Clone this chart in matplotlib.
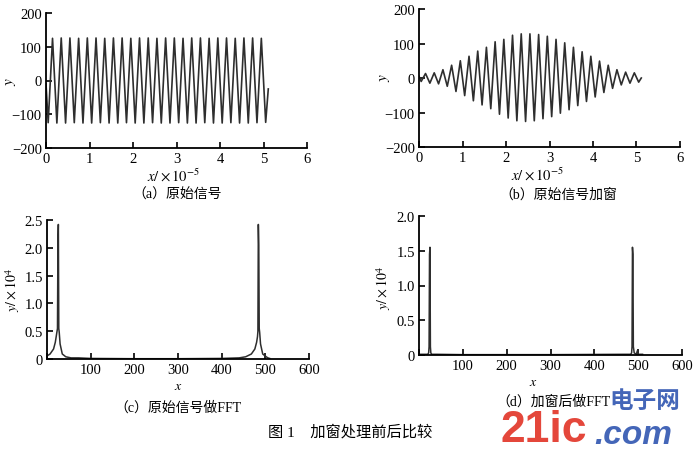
import numpy as np
import matplotlib.pyplot as plt

plt.rcParams['font.family'] = ['Liberation Serif', 'Noto Sans CJK SC', 'DejaVu Sans']
plt.rcParams['mathtext.fontset'] = 'stix'

# ---- (a) original signal: trough / peak values (x in 1e-5) ----
trough_x = [0.05, 0.25, 0.45, 0.65, 0.85, 1.05, 1.25, 1.45, 1.65, 1.85, 2.05, 2.25, 2.45,
            2.65, 2.85, 3.05, 3.25, 3.45, 3.65, 3.85, 4.05, 4.25, 4.45, 4.65, 4.85, 5.05]
peak_x = [0.15, 0.35, 0.55, 0.75, 0.95, 1.15, 1.35, 1.55, 1.75, 1.95, 2.15, 2.35, 2.55,
          2.75, 2.95, 3.15, 3.35, 3.55, 3.75, 3.95, 4.15, 4.35, 4.55, 4.75, 4.95]
ends_x = [0.0, 5.11]

raw_trough = [-125, -126, -126, -125, -126, -126, -125, -126, -126, -125, -126, -126, -125,
              -126, -126, -125, -126, -126, -125, -126, -126, -125, -126, -126, -125, -124]
raw_peak = [125, 126, 126, 125, 126, 126, 125, 126, 126, 125, 126, 126, 125,
            126, 126, 125, 126, 126, 125, 126, 126, 125, 126, 126, 125]
raw_ends = [-10, -25]

# ---- (b) windowed signal ----
win_trough = [-10, -15, -17, -24, -39, -51, -66, -78, -89, -105, -116, -124, -126,
              -124, -118, -112, -102, -92, -80, -68, -55, -42, -30, -20, -15, -12]
win_peak = [13, 15, 24, 37, 50, 63, 78, 89, 105, 112, 124, 128, 128,
            126, 121, 112, 102, 89, 76, 63, 49, 37, 24, 17, 15]
win_ends = [5, 0]

# ---- (c) FFT of original signal (y in 1e4) ----
fft_raw_x = [1, 7, 15, 19, 21, 23, 24, 25, 26, 27, 28, 30, 35, 43, 55, 72, 100, 200, 300,
             400, 440, 455, 468, 476, 480, 482, 483, 484, 485, 486, 487, 489, 494, 502, 506, 510]
fft_raw_y = [0.06, 0.09, 0.18, 0.30, 0.40, 0.50, 0.55, 2.05, 2.42, 0.55, 0.48, 0.27, 0.09,
             0.04, 0.02, 0.02, 0.01, 0.005, 0.005, 0.01, 0.02, 0.04, 0.09, 0.18, 0.30, 0.40,
             0.50, 2.42, 2.05, 0.55, 0.48, 0.27, 0.09, 0.04, 0.02, 0.01]

# ---- (d) FFT after windowing ----
fft_win_x = [1, 10, 20, 22, 23, 24, 25, 26, 27, 29, 40, 100, 300, 470, 483, 485, 486, 487,
             488, 489, 491, 496, 498, 500, 505, 510]
fft_win_y = [0.01, 0.01, 0.01, 0.03, 0.12, 1.45, 1.55, 0.12, 0.03, 0.01, 0.01, 0.005, 0.005,
             0.01, 0.01, 0.03, 0.12, 1.55, 1.45, 0.12, 0.03, 0.01, 0.06, 0.01, 0.01, 0.01]

captions = ['（a）原始信号', '（b）原始信号加窗', '（c）原始信号做FFT', '（d）加窗后做FFT']
fig_caption = '图 1    加窗处理前后比较'

LINE = '#2e2e2e'
W, H = 700, 452


def zigzag(tx, ty, px, py, ex, ey):
    xs = np.concatenate([tx, px, ex])
    ys = np.concatenate([ty, py, ey])
    order = np.argsort(xs)
    return xs[order], ys[order]


def style(ax):
    for s in ['top', 'right']:
        ax.spines[s].set_visible(False)
    for s in ['left', 'bottom']:
        ax.spines[s].set_linewidth(1.3)
    ax.tick_params(direction='in', length=4, width=1.2, labelsize=10.5, pad=3)


def ftext(x, y, s, **kw):
    # place text by pixel position of its centre
    kw.setdefault('ha', 'center')
    kw.setdefault('va', 'center')
    return fig.text(x / W, 1 - y / H, s, **kw)


fig = plt.figure(figsize=(7, 4.52), dpi=100)


def add_axes(l, r, t, b):
    return fig.add_axes([l / W, 1 - b / H, (r - l) / W, (b - t) / H])


ax_a = add_axes(46, 307, 14, 149)
ax_b = add_axes(419, 680, 10, 148)
ax_c = add_axes(47, 309, 221, 360)
ax_d = add_axes(419, 682, 217, 356)

# time signals
for ax, tv, pv, ev in [(ax_a, raw_trough, raw_peak, raw_ends),
                       (ax_b, win_trough, win_peak, win_ends)]:
    xs, ys = zigzag(trough_x, tv, peak_x, pv, ends_x, ev)
    ax.plot(xs, ys, color=LINE, lw=1.2)
    ax.set_xlim(0, 6)
    ax.set_ylim(-200, 200)
    ax.set_xticks(range(0, 7))
    ax.set_yticks([-200, -100, 0, 100, 200])
    ax.set_yticklabels(['\u2212200', '\u2212100', '0', '100', '200'])
    style(ax)

ftext(173, 176, r'$x/\times10^{-5}$', fontsize=10.5)
ftext(537, 175, r'$x/\times10^{-5}$', fontsize=10.5)
ftext(11, 82, r'$y$', fontsize=11, rotation=90)
ftext(385, 78, r'$y$', fontsize=11, rotation=90)

# spectra
for ax, fx, fy, ymax in [(ax_c, fft_raw_x, fft_raw_y, 2.5),
                         (ax_d, fft_win_x, fft_win_y, 2.0)]:
    ax.plot(fx, fy, color=LINE, lw=1.1)
    ax.set_xlim(0, 600)
    ax.set_ylim(0, ymax)
    ax.set_xticks([0, 100, 200, 300, 400, 500, 600])
    ax.set_xticklabels(['', '100', '200', '300', '400', '500', '600'])
    yt = np.arange(0, ymax + 0.01, 0.5)
    ax.set_yticks(yt)
    ax.set_yticklabels(['0'] + ['%.1f' % v for v in yt[1:]])
    style(ax)

ftext(178, 387, r'$x$', fontsize=10)
ftext(533, 383, r'$x$', fontsize=10)
ftext(13, 290, r'$y/\times10^{4}$', fontsize=10, rotation=90)
ftext(384, 288, r'$y/\times10^{4}$', fontsize=10, rotation=90)

# captions
for (cx, cy), txt in zip([(177, 195), (558, 195), (178, 408), (553, 402)], captions):
    ftext(cx, cy, txt, fontsize=10)
ftext(350, 432, fig_caption, fontsize=11)

# watermark
ftext(500, 442, '21ic', color='#e4473b', fontsize=32, fontweight='bold',
      family=['Liberation Sans'], ha='left', va='baseline')
ftext(594, 444, '.com', color='#4466b8', fontsize=24, fontweight='bold',
      style='italic', family=['Liberation Sans'], ha='left', va='baseline')
ftext(645, 401, '电子网', color='#4466b8', fontsize=17, fontweight='bold',
      family=['Noto Sans CJK SC'])

fig.savefig('out.png', dpi=100)
